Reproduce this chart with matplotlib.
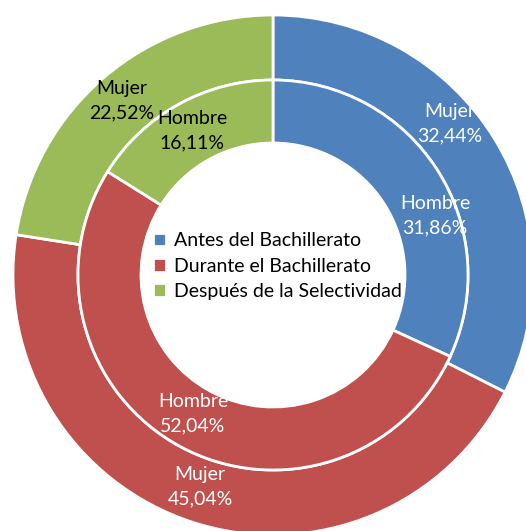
import matplotlib.pyplot as plt

categories = ["Antes del Bachillerato", "Durante el Bachillerato", "Después de la Selectividad"]
mujer = [32.44, 45.04, 22.52]
hombre = [31.86, 52.04, 16.11]
mujer_labels = ["Mujer\n32,44%", "Mujer\n45,04%", "Mujer\n22,52%"]
hombre_labels = ["Hombre\n31,86%", "Hombre\n52,04%", "Hombre\n16,11%"]
colors = ["#4F81BD", "#C0504D", "#9BBB59"]
label_colors = ["white", "white", "black"]

plt.rcParams['font.family'] = ['Lato', 'DejaVu Sans']

fig = plt.figure(figsize=(5.26, 5.31), dpi=100)
ax = fig.add_axes([0, 0, 1, 1])

R_out, R_mid, R_in = 260, 195, 132
wp = dict(edgecolor='white', linewidth=2)
outer, _ = ax.pie(mujer, radius=R_out, colors=colors, startangle=90, counterclock=False,
                  wedgeprops=dict(width=R_out - R_mid, **wp), frame=True)
inner, _ = ax.pie(hombre, radius=R_mid, colors=colors, startangle=90, counterclock=False,
                  wedgeprops=dict(width=R_mid - R_in, **wp), frame=True)
ax.set_xlim(-273, 253)
ax.set_ylim(-256, 275)
ax.set_aspect('equal')
ax.axis('off')

outer_pos = [(177, 151), (-73, -212), (-151, 174)]
inner_pos = [(162, 59), (-80, -139), (-81, 144)]
fs = 14
for (x, y), t, c in zip(outer_pos, mujer_labels, label_colors):
    ax.text(x, y, t, ha='center', va='center', color=c, fontsize=fs, linespacing=1.55)
for (x, y), t, c in zip(inner_pos, hombre_labels, label_colors):
    ax.text(x, y, t, ha='center', va='center', color=c, fontsize=fs, linespacing=1.55)

leg = ax.legend(outer, categories, loc='center', bbox_to_anchor=(0.527, 0.499),
                bbox_transform=fig.transFigure, frameon=False, fontsize=fs,
                handlelength=0.7, handleheight=0.7, handletextpad=0.4,
                labelspacing=0.42, borderpad=0)

fig.savefig("out.png", dpi=100)
